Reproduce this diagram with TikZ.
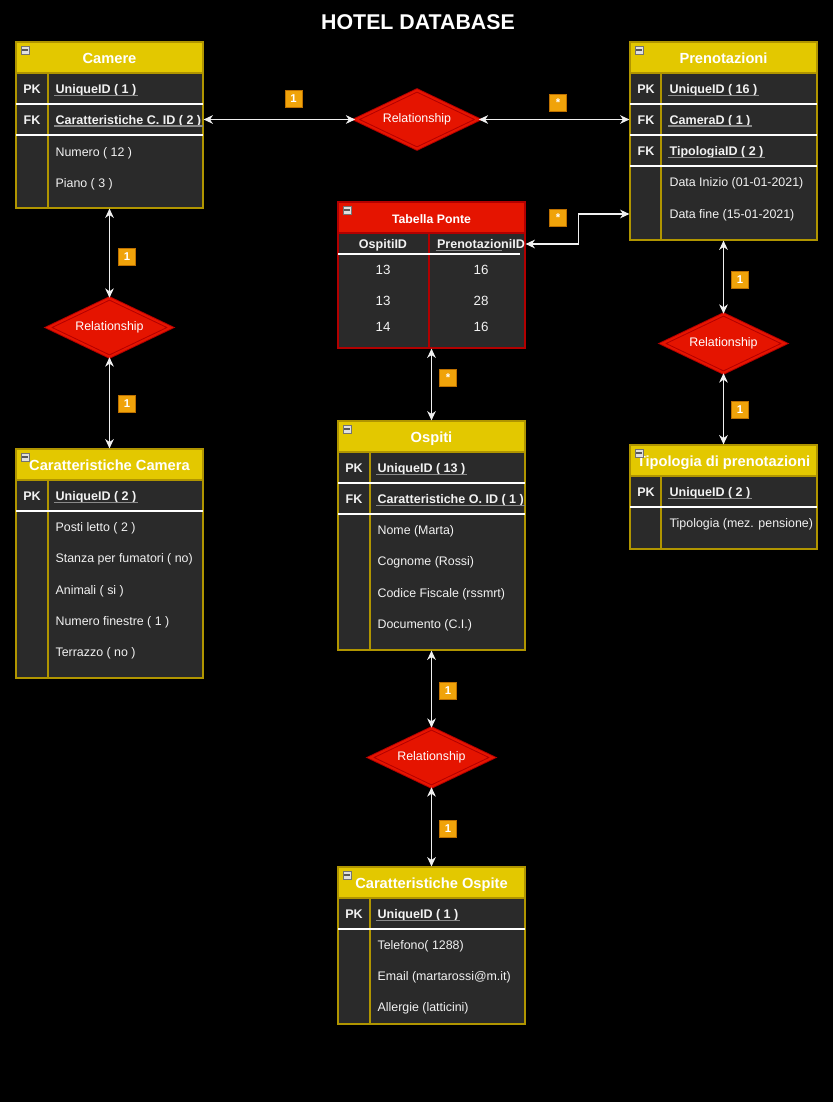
\documentclass[tikz,border=0pt]{standalone}
\usepackage{fontspec}
\setmainfont{Liberation Sans}
\usetikzlibrary{arrows.meta,shapes.geometric,fit}

\definecolor{hdryellow}{HTML}{E3C800}
\definecolor{hdrborder}{HTML}{B09500}
\definecolor{bodyfill}{HTML}{2A2A2A}
\definecolor{relred}{HTML}{E51400}
\definecolor{relborder}{HTML}{B20000}
\definecolor{cardfill}{HTML}{F0A30A}
\definecolor{cardborder}{HTML}{BD7000}
\definecolor{linkcol}{HTML}{F0F0F0}
\definecolor{ulcol}{HTML}{8A8A8A}
\definecolor{txtcol}{HTML}{F2F2F2}

\tikzset{
  hdr/.style={font=\fontsize{11}{13}\selectfont\bfseries, text=white,
    text height=9.5pt, text depth=1.6pt, inner sep=0pt},
  keytxt/.style={font=\fontsize{9.4}{11}\selectfont\bfseries, text=txtcol,
    text height=8.3pt, text depth=1.5pt, inner sep=0pt},
  keyname/.style={font=\fontsize{9.4}{11}\selectfont\bfseries, text=txtcol,
    text height=8.3pt, text depth=1.5pt, inner sep=1pt, anchor=west},
  attr/.style={font=\fontsize{9.3}{11}\selectfont, text=txtcol,
    text height=8.3pt, text depth=1.5pt, inner sep=1pt, anchor=west},
  cellval/.style={font=\fontsize{10}{12}\selectfont, text=txtcol,
    text height=8.8pt, text depth=1.6pt, inner sep=0pt},
  colhdr/.style={font=\fontsize{9.4}{11}\selectfont\bfseries, text=txtcol,
    text height=8.3pt, text depth=1.5pt, inner sep=1pt},
  uline/.style={draw=ulcol, line width=0.8pt},
  rowsep/.style={draw=white, line width=0.8pt},
  rel/.style={diamond, aspect=2, fill=relred, draw=relborder, line width=0.7pt,
    double=relred, double distance=1.6pt, minimum width=92pt, minimum height=44pt,
    inner sep=0pt, font=\fontsize{9.3}{11}\selectfont, text=white},
  card/.style={fill=cardfill, draw=cardborder, line width=0.6pt,
    minimum width=12.8pt, minimum height=13.2pt, inner sep=0pt,
    font=\fontsize{8.5}{10}\selectfont\bfseries, text=white},
  link/.style={draw=linkcol, line width=0.9pt,
    {Stealth[length=7pt,width=6.5pt,inset=2.2pt]}-{Stealth[length=7pt,width=6.5pt,inset=2.2pt]}},
  minusicon/.style={draw=black!55, fill=black!12, minimum size=6pt, inner sep=0pt,
    line width=0.4pt,
    path picture={\draw[black!65, line width=1pt]
      ([xshift=-1.9pt]path picture bounding box.center) --
      ([xshift=1.9pt]path picture bounding box.center);}},
  titletxt/.style={font=\fontsize{16}{18}\selectfont\bfseries, text=white, inner sep=0pt}
}

% table frame: name, left, top, right, bottom, header fill, border colour, title
\newcommand\ertable[8]{%
  \fill[bodyfill] (#2,#3) rectangle (#4,#5);
  \fill[#6] (#2,#3) rectangle (#4,#3+31);
  \draw[#7, line width=0.8pt] (#2,#3+31) -- (#4,#3+31);
  \node[fit={(#2,#3)(#4,#5)}, draw=#7, line width=0.9pt, inner sep=0pt] (#1) {};
  \node[hdr] (#1T) at ({(#2+#4)/2},#3+16) {#8};
  \node[minusicon] (#1icon) at (#2+9,#3+8) {};
}
% key row: name, table left, centre y, key, field
\newcommand\keyrow[5]{%
  \node[keytxt] (#1k) at (#2+16,#3) {#4};
  \node[keyname] (#1) at (#2+38,#3) {#5};
  \draw[uline] ([yshift=1.2pt]#1.south west) -- ([yshift=1.2pt]#1.south east);
}
% plain attribute row: name, table left, centre y, text
\newcommand\attrrow[4]{%
  \node[attr] (#1) at (#2+38,#3) {#4};
}
% white separator: left, right, y
\newcommand\rowline[3]{%
  \draw[rowsep] (#1,#3) -- (#2,#3);
}

\begin{document}
\begin{tikzpicture}[x=0.75pt,y=-0.75pt]
\useasboundingbox (0,0) rectangle (833,1102);
\fill[black] (0,0) rectangle (833,1102);

\node[titletxt] (title) at (418,22) {HOTEL DATABASE};

% ---------- Camere ----------
\ertable{cam}{16}{42}{203}{208}{hdryellow}{hdrborder}{Camere}
\draw[hdrborder, line width=0.8pt] (48,73) -- (48,208);
\keyrow{camPK}{16}{89}{PK}{UniqueID ( 1 )}
\rowline{16}{203}{104}
\keyrow{camFK}{16}{119.5}{FK}{Caratteristiche C. ID ( 2 )}
\rowline{16}{203}{135}
\attrrow{camA1}{16}{152}{Numero ( 12 )}
\attrrow{camA2}{16}{183}{Piano ( 3 )}

% ---------- Prenotazioni ----------
\ertable{pre}{630}{42}{817}{240}{hdryellow}{hdrborder}{Prenotazioni}
\draw[hdrborder, line width=0.8pt] (661,73) -- (661,240);
\keyrow{prePK}{630}{89}{PK}{UniqueID ( 16 )}
\rowline{630}{817}{104}
\keyrow{preFKa}{630}{119.5}{FK}{CameraD ( 1 )}
\rowline{630}{817}{135}
\keyrow{preFKb}{630}{151}{FK}{TipologiaID ( 2 )}
\rowline{630}{817}{166}
\attrrow{preA1}{630}{182}{Data Inizio (01-01-2021)}
\attrrow{preA2}{630}{214}{Data fine (15-01-2021)}

% ---------- Tabella Ponte ----------
\ertable{tp}{338}{202}{525}{348}{relred}{relborder}{\fontsize{9.2}{11}\selectfont Tabella Ponte}
\draw[relborder, line width=0.8pt] (429,233) -- (429,348);
\node[colhdr] (tpC1) at (383,244) {OspitiID};
\node[colhdr] (tpC2) at (481,244) {PrenotazioniID};
\draw[uline] ([yshift=1.2pt]tpC2.south west) -- ([xshift=-18pt,yshift=1.2pt]tpC2.south east);
\rowline{338}{520}{254}
\node[cellval] (tpR1a) at (383,270) {13};
\node[cellval] (tpR1b) at (481,270) {16};
\node[cellval] (tpR2a) at (383,301) {13};
\node[cellval] (tpR2b) at (481,301) {28};
\node[cellval] (tpR3a) at (383,327) {14};
\node[cellval] (tpR3b) at (481,327) {16};

% ---------- Ospiti ----------
\ertable{osp}{338}{421}{525}{650}{hdryellow}{hdrborder}{Ospiti}
\draw[hdrborder, line width=0.8pt] (370,452) -- (370,650);
\keyrow{ospPK}{338}{467.5}{PK}{UniqueID ( 13 )}
\rowline{338}{525}{483}
\keyrow{ospFK}{338}{498.5}{FK}{Caratteristiche O. ID ( 1 )}
\rowline{338}{525}{514}
\attrrow{ospA1}{338}{530}{Nome (Marta)}
\attrrow{ospA2}{338}{561}{Cognome (Rossi)}
\attrrow{ospA3}{338}{593}{Codice Fiscale (rssmrt)}
\attrrow{ospA4}{338}{624}{Documento (C.I.)}

% ---------- Caratteristiche Camera ----------
\ertable{cc}{16}{449}{203}{678}{hdryellow}{hdrborder}{Caratteristiche Camera}
\draw[hdrborder, line width=0.8pt] (48,480) -- (48,678);
\keyrow{ccPK}{16}{496}{PK}{UniqueID ( 2 )}
\rowline{16}{203}{511}
\attrrow{ccA1}{16}{527}{Posti letto ( 2 )}
\attrrow{ccA2}{16}{558}{Stanza per fumatori ( no)}
\attrrow{ccA3}{16}{590}{Animali ( si )}
\attrrow{ccA4}{16}{621}{Numero finestre ( 1 )}
\attrrow{ccA5}{16}{652}{Terrazzo ( no )}

% ---------- Tipologia di prenotazioni ----------
\ertable{tip}{630}{445}{817}{549}{hdryellow}{hdrborder}{Tipologia di prenotazioni}
\draw[hdrborder, line width=0.8pt] (661,476) -- (661,549);
\keyrow{tipPK}{630}{492}{PK}{UniqueID ( 2 )}
\rowline{630}{817}{507}
\attrrow{tipA1}{630}{523}{Tipologia (mez. pensione)}

% ---------- Caratteristiche Ospite ----------
\ertable{co}{338}{867}{525}{1024}{hdryellow}{hdrborder}{Caratteristiche Ospite}
\draw[hdrborder, line width=0.8pt] (370,898) -- (370,1024);
\keyrow{coPK}{338}{913.5}{PK}{UniqueID ( 1 )}
\rowline{338}{525}{929}
\attrrow{coA1}{338}{945}{Telefono( 1288)}
\attrrow{coA2}{338}{976}{Email (martarossi@m.it)}
\attrrow{coA3}{338}{1007}{Allergie (latticini)}

% ---------- relationships ----------
\node[rel] (rel1) at (417,119.5) {Relationship};
\node[rel] (rel2) at (109.5,327.5) {Relationship};
\node[rel] (rel3) at (723.5,343.5) {Relationship};
\node[rel] (rel4) at (431.5,757.5) {Relationship};

% ---------- connectors ----------
\draw[link] (cam.east |- camFK) -- (rel1.west);
\draw[link] (rel1.east) -- (pre.west |- preFKa);
\draw[link] (tp.east |- tpC2) -- ++(53,0) |- (pre.west |- preA2);
\draw[link] (cam.south) -- (rel2.north);
\draw[link] (rel2.south) -- (cc.north);
\draw[link] (pre.south) -- (rel3.north);
\draw[link] (rel3.south) -- (tip.north);
\draw[link] (tp.south) -- (osp.north);
\draw[link] (osp.south) -- (rel4.north);
\draw[link] (rel4.south) -- (co.north);

% ---------- cardinalities ----------
\node[card] (k1) at (293.5,99) {1};
\node[card] (k2) at (558,103) {*};
\node[card] (k3) at (558,218) {*};
\node[card] (k4) at (127,257) {1};
\node[card] (k5) at (127,404) {1};
\node[card] (k6) at (740,280) {1};
\node[card] (k7) at (740,410) {1};
\node[card] (k8) at (448,378) {*};
\node[card] (k9) at (448,691) {1};
\node[card] (k10) at (448,829) {1};
\end{tikzpicture}
\end{document}
